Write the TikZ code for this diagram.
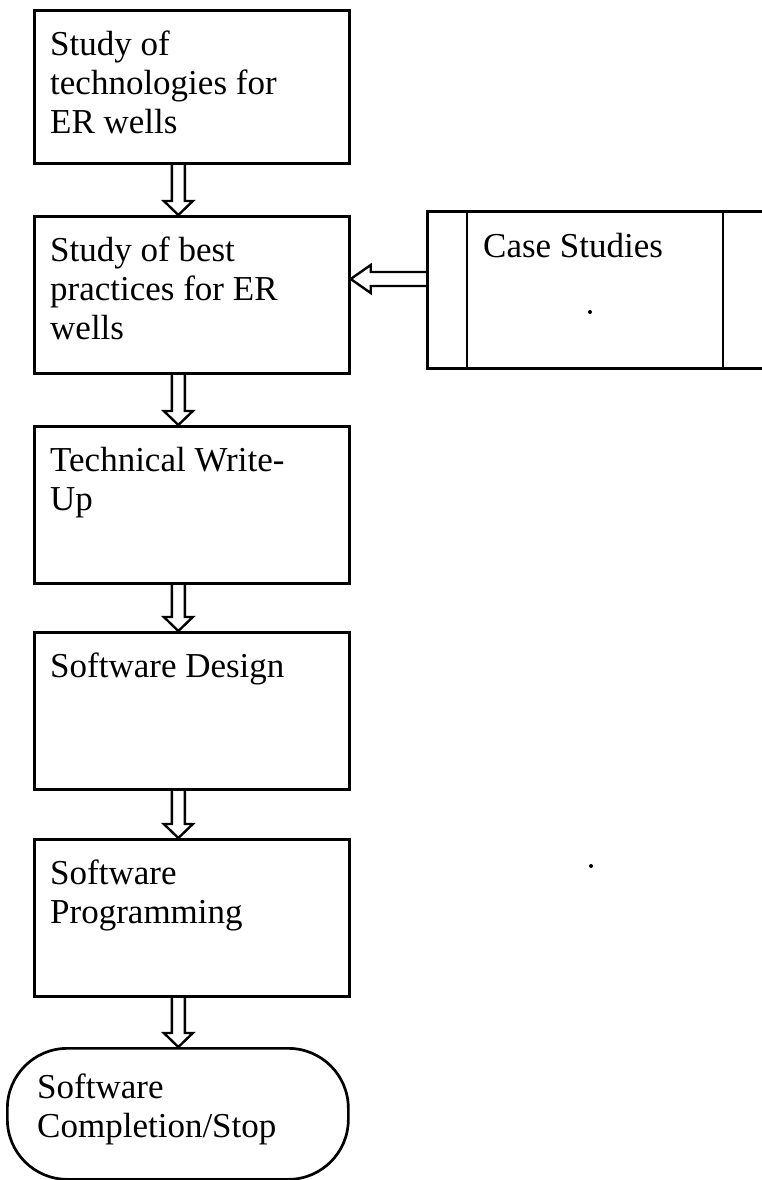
\documentclass[tikz,border=0pt]{standalone}
\usepackage{fontspec}
\setmainfont{Liberation Serif}
\usetikzlibrary{calc}
\tikzset{
  boxline/.style={draw, line width=2.7pt, inner sep=0pt, minimum width=315pt, minimum height=157pt, anchor=north west},
  lbl/.style={font=\fontsize{35}{39}\selectfont, align=left, anchor=north west, inner sep=0pt},
  arrowline/.style={draw, line width=2.4pt, line join=miter},
}
\newcommand\hdarrow[2]{%
  \coordinate (s) at ($(#1.south)+(-13.5,0)$);
  \coordinate (t) at (s |- #2.north);
  \draw[arrowline] ($(s)+(-6.5,0)$) -- ($(t)+(-6.5,-14)$) -- ($(t)+(-14.5,-14)$) -- (t)
     -- ($(t)+(14.5,-14)$) -- ($(t)+(6.5,-14)$) -- ($(s)+(6.5,0)$);
}
\begin{document}
\begin{tikzpicture}[x=1pt, y=-1pt]
\useasboundingbox (0,0) rectangle (761,1180);
% main boxes
\node[boxline, minimum height=153pt] (b1) at (33,9) {};
\node[boxline] (b2) at (33,215) {};
\node[boxline] (b3) at (33,425) {};
\node[boxline] (b4) at (33,631) {};
\node[boxline] (b5) at (33,838) {};
\node[draw, line width=2.7pt, rounded corners=60pt, minimum width=341pt, minimum height=131pt, anchor=north west, inner sep=0pt] (end) at (6,1047) {};
% case studies box
\node[draw, line width=2.7pt, minimum width=360pt, minimum height=157pt, anchor=north west, inner sep=0pt] (cs) at (426,210) {};
\coordinate (csa) at (467,210);
\coordinate (csb) at (723,210);
\draw[line width=2.7pt] (csa) -- (csa |- cs.south);
\draw[line width=2.7pt] (csb) -- (csb |- cs.south);
% labels
\node[lbl] (t1) at ($(b1.north west)+(17,22)$) {Study of\\technologies for\\ER wells};
\node[lbl] (t2) at ($(b2.north west)+(17,22)$) {Study of best\\practices for ER\\wells};
\node[lbl] (t3) at ($(b3.north west)+(17,22)$) {Technical Write-\\Up};
\node[lbl] (t4) at ($(b4.north west)+(17,22)$) {Software Design};
\node[lbl] (t5) at ($(b5.north west)+(17,22)$) {Software\\Programming};
\node[lbl] (t6) at ($(end.north west)+(31,27)$) {Software\\Completion/Stop};
\node[lbl] (t7) at ($(cs.north west)+(57,23)$) {Case Studies};
% dots
\fill (590,312) circle (2pt);
\fill (591,866) circle (2pt);
% vertical arrows
\hdarrow{b1}{b2}
\hdarrow{b2}{b3}
\hdarrow{b3}{b4}
\hdarrow{b4}{b5}
\hdarrow{b5}{end}
% horizontal arrow from case studies
\coordinate (hs) at (cs.west |- 0,279);
\coordinate (ht) at (b2.east |- hs);
\draw[arrowline] ($(hs)+(0,-7)$) -- ($(ht)+(20,-7)$) -- ($(ht)+(20,-14)$) -- (ht)
   -- ($(ht)+(20,14)$) -- ($(ht)+(20,7)$) -- ($(hs)+(0,7)$);
\end{tikzpicture}
\end{document}
